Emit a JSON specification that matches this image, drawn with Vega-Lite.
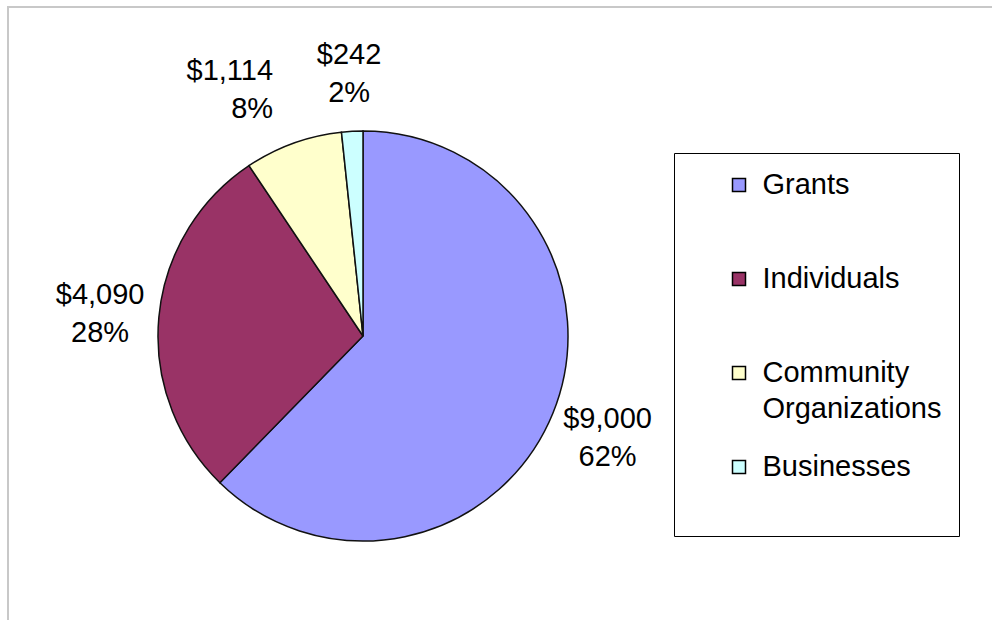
{
  "$schema": "https://vega.github.io/schema/vega-lite/v6.json",
  "width": 990,
  "height": 620,
  "autosize": "none",
  "padding": {"left": 8, "top": 7, "right": -6, "bottom": -7},
  "background": "white",
  "view": {"stroke": "#c8c8c8", "strokeWidth": 2, "fill": "white"},
  "config": {
    "font": "Liberation Sans"
  },
  "data": {
    "values": [
      {"cat": "Grants", "amount": 9000, "dollar": "$9,000", "pct": "62%", "idx": 1},
      {"cat": "Individuals", "amount": 4090, "dollar": "$4,090", "pct": "28%", "idx": 2},
      {"cat": "Community Organizations", "amount": 1114, "dollar": "$1,114", "pct": "8%", "idx": 3},
      {"cat": "Businesses", "amount": 242, "dollar": "$242", "pct": "2%", "idx": 4}
    ]
  },
  "encoding": {
    "theta": {"field": "amount", "type": "quantitative", "stack": true},
    "order": {"field": "idx", "type": "quantitative"}
  },
  "layer": [
    {
      "mark": {"type": "arc", "outerRadius": 205, "stroke": "#111111", "strokeWidth": 1.5, "x": 355, "y": 329},
      "encoding": {
        "color": {
          "field": "cat",
          "type": "nominal",
          "scale": {
            "domain": ["Grants", "Individuals", "Community Organizations", "Businesses"],
            "range": ["#9999FF", "#993366", "#FFFFCC", "#CCFFFF"]
          },
          "legend": {
            "orient": "none",
            "legendX": 666,
            "legendY": 146,
            "title": null,
            "direction": "vertical",
            "strokeColor": "#000000",
            "padding": 17.5,
            "symbolType": "square",
            "symbolSize": 169,
            "symbolStrokeColor": "#000000",
            "symbolStrokeWidth": 1.5,
            "symbolOpacity": 1,
            "symbolOffset": 33,
            "labelOffset": 9,
            "labelFontSize": 29,
            "labelFont": "Liberation Sans",
            "labelColor": "#000000",
            "labelLimit": 0,
            "labelBaseline": "middle",
            "rowPadding": 28,
            "labelExpr": "datum.label == 'Community Organizations' ? ['Community', 'Organizations'] : [datum.label, '']",
            "encode": {
              "labels": {"update": {"lineHeight": {"value": 36}}}
            }
          }
        }
      }
    },
    {
      "mark": {"type": "text", "radius": 264, "dy": -17, "fontSize": 29, "font": "Liberation Sans", "color": "#000000", "x": 355, "y": 329,
        "align": {"expr": "datum.cat == 'Community Organizations' ? 'right' : 'center'"}},
      "encoding": {
        "text": {"field": "dollar", "type": "nominal"},
        "detail": {"field": "cat", "type": "nominal"}
      }
    },
    {
      "mark": {"type": "text", "radius": 264, "dy": 21, "fontSize": 29, "font": "Liberation Sans", "color": "#000000", "x": 355, "y": 329,
        "align": {"expr": "datum.cat == 'Community Organizations' ? 'right' : 'center'"}},
      "encoding": {
        "text": {"field": "pct", "type": "nominal"},
        "detail": {"field": "cat", "type": "nominal"}
      }
    }
  ]
}
